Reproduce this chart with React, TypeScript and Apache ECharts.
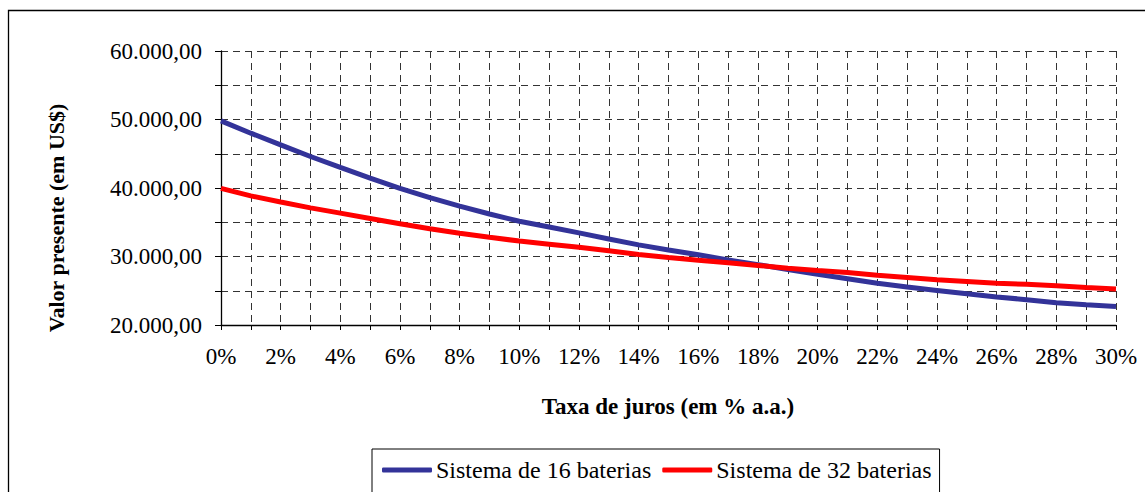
import React, { useEffect, useRef } from "react";
import * as echarts from "echarts";

const rates = [0, 1, 2, 3, 4, 5, 6, 7, 8, 9, 10, 11, 12, 13, 14, 15, 16, 17, 18, 19, 20, 21, 22, 23, 24, 25, 26, 27, 28, 29, 30];
const sistema16 = [49800, 48000, 46300, 44600, 43000, 41450, 39950, 38600, 37350, 36200, 35150, 34300, 33450, 32550, 31700, 30950, 30250, 29500, 28810, 28100, 27400, 26750, 26100, 25550, 25050, 24550, 24100, 23700, 23250, 22950, 22700];
const sistema32 = [39950, 38850, 37950, 37100, 36330, 35550, 34770, 34050, 33400, 32810, 32250, 31800, 31350, 30850, 30300, 29850, 29450, 29100, 28700, 28300, 27950, 27650, 27250, 26950, 26600, 26350, 26100, 25950, 25720, 25480, 25260];
const seriesNames = ["Sistema de 16 baterias", "Sistema de 32 baterias"];
const xAxisTitle = "Taxa de juros (em % a.a.)";
const yAxisTitle = "Valor presente (em US$)";

const FONT = "'Liberation Serif', 'Times New Roman', serif";

function fmtBR(v: number): string {
  const s = Math.round(v).toString().replace(/\B(?=(\d{3})+(?!\d))/g, ".");
  return s + ",00";
}

export default function App() {
  const ref = useRef<HTMLDivElement>(null);
  useEffect(() => {
    if (!ref.current) return;
    const chart = echarts.init(ref.current, undefined, { renderer: "svg" });
    const grid = { color: "#333", width: 1, type: [7, 5] as any };
    chart.setOption({
      animation: false,
      backgroundColor: "#fff",
      textStyle: { fontFamily: FONT },
      grid: { left: 221, top: 51, right: 29, bottom: 167, containLabel: false },
      xAxis: {
        type: "value",
        min: 0,
        max: 30,
        interval: 1,
        axisLine: { show: true, onZero: false, lineStyle: { color: "#000", width: 1.3 } },
        axisTick: { show: true, length: 5, lineStyle: { color: "#000" } },
        axisLabel: {
          margin: 20,
          fontFamily: FONT,
          fontSize: 23,
          color: "#000",
          formatter: (v: number) => (v % 2 === 0 ? v + "%" : ""),
        },
        splitLine: { show: true, lineStyle: grid },
      },
      yAxis: {
        type: "value",
        min: 20000,
        max: 60000,
        interval: 5000,
        axisLine: { show: true, lineStyle: { color: "#000", width: 1.3 } },
        axisTick: { show: true, length: 6, lineStyle: { color: "#000" } },
        axisLabel: {
          margin: 19,
          fontFamily: FONT,
          fontSize: 23,
          color: "#000",
          formatter: (v: number) => (v % 10000 === 0 ? fmtBR(v) : ""),
        },
        splitLine: { show: true, lineStyle: grid },
      },
      legend: {
        left: 372,
        top: 449,
        orient: "horizontal",
        borderColor: "#000",
        borderWidth: 1,
        padding: [9, 8, 20, 10],
        itemWidth: 50,
        itemHeight: 5,
        itemGap: 11,
        icon: "roundRect",
        textStyle: { fontFamily: FONT, fontSize: 24, color: "#000", padding: [0, 0, 0, -1] },
        data: seriesNames,
      },
      graphic: [
        {
          type: "rect",
          shape: { x: 8.5, y: 10.5, width: 1200, height: 600 },
          style: { fill: "none", stroke: "#000", lineWidth: 1.3 },
          silent: true,
        },
        {
          type: "text",
          x: 668,
          y: 406,
          style: {
            text: xAxisTitle,
            font: "bold 23px " + FONT,
            fill: "#000",
            align: "center",
            verticalAlign: "middle",
          },
        },
        {
          type: "text",
          x: 56,
          y: 218,
          rotation: Math.PI / 2,
          style: {
            text: yAxisTitle,
            font: "bold 22px " + FONT,
            fill: "#000",
            align: "center",
            verticalAlign: "middle",
          },
        },
      ],
      series: [
        {
          name: seriesNames[0],
          type: "line",
          symbol: "none",
          data: rates.map((r, i) => [r, sistema16[i]]),
          lineStyle: { color: "#333399", width: 5 },
          itemStyle: { color: "#333399" },
        },
        {
          name: seriesNames[1],
          type: "line",
          symbol: "none",
          data: rates.map((r, i) => [r, sistema32[i]]),
          lineStyle: { color: "#ff0000", width: 5 },
          itemStyle: { color: "#ff0000" },
        },
      ],
    });
    return () => chart.dispose();
  }, []);
  return (
    <div style={{ position: "fixed", left: 0, top: 0, width: 1145, height: 492, overflow: "hidden", background: "#fff" }}>
      <div ref={ref} style={{ width: 1145, height: 492 }} />
    </div>
  );
}
